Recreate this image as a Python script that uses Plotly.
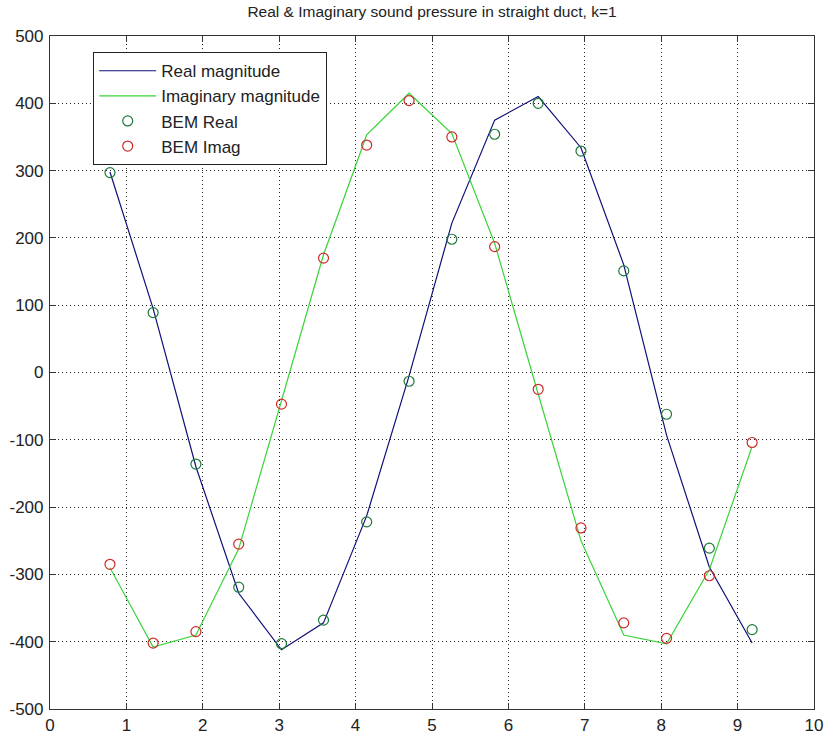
import plotly.graph_objects as go

x_vals = [0.785, 1.35, 1.91, 2.47, 3.03, 3.58, 4.145, 4.70, 5.26, 5.82, 6.39, 6.95, 7.51, 8.07, 8.63, 9.19]

real_mag = [298, 95, -140, -328, -412, -372, -213, -5, 222, 375, 410, 334, 160, -93, -289, -402]
imag_mag = [-290, -408, -390, -262, -42, 175, 353, 415, 355, 192, -32, -250, -390, -403, -293, -110]

bem_real = [297, 89, -136, -319, -403, -368, -222, -13, 198, 354, 400, 329, 151, -62, -261, -382]
bem_imag = [-285, -402, -385, -255, -47, 170, 338, 404, 350, 187, -25, -231, -372, -395, -302, -104]

x_ticks = [0, 1, 2, 3, 4, 5, 6, 7, 8, 9, 10]
y_ticks = [-500, -400, -300, -200, -100, 0, 100, 200, 300, 400, 500]

title_text = "Real &amp; Imaginary sound pressure in straight duct, k=1"

fig = go.Figure()
fig.add_trace(go.Scatter(x=x_vals, y=real_mag, mode="lines", name="Real magnitude",
                         line=dict(color="#10107a", width=1.2)))
fig.add_trace(go.Scatter(x=x_vals, y=imag_mag, mode="lines", name="Imaginary magnitude",
                         line=dict(color="#3ad43a", width=1.2)))
fig.add_trace(go.Scatter(x=x_vals, y=bem_real, mode="markers", name="BEM Real",
                         marker=dict(symbol="circle-open", size=10, color="#1d7a3a",
                                     line=dict(width=1.2, color="#1d7a3a"))))
fig.add_trace(go.Scatter(x=x_vals, y=bem_imag, mode="markers", name="BEM Imag",
                         marker=dict(symbol="circle-open", size=10, color="#d02a2a",
                                     line=dict(width=1.2, color="#d02a2a"))))

axis_common = dict(
    showline=True, linecolor="#333333", linewidth=1.2, mirror="ticks",
    ticks="inside", ticklen=6, tickcolor="#333333", tickwidth=1,
    showgrid=True, gridcolor="#222222", gridwidth=1, griddash="1px,3px",
    zeroline=False, automargin=False,
    tickfont=dict(family="Liberation Sans, Arial, sans-serif", size=17, color="#222222"),
)

fig.update_xaxes(range=[0, 10], tickvals=x_ticks, ticktext=[str(v) for v in x_ticks],
                 **axis_common)
fig.update_yaxes(range=[-500, 500], tickvals=y_ticks, ticktext=[str(v) for v in y_ticks],
                 ticklabelstandoff=2, **axis_common)

fig.update_layout(
    width=825, height=734,
    margin=dict(l=50, r=11, t=36, b=25, autoexpand=False),
    paper_bgcolor="white", plot_bgcolor="white",
    title=dict(text=title_text, x=(50 + 382) / 825, xanchor="center", y=1 - 12 / 734,
               yanchor="middle",
               font=dict(family="Liberation Sans, Arial, sans-serif", size=15.5, color="#222222")),
    showlegend=True,
    legend=dict(x=(93 - 50) / 764, y=1 - (52 - 36) / 673, xanchor="left", yanchor="top",
                bgcolor="white", bordercolor="#222222", borderwidth=1.2,
                font=dict(family="Liberation Sans, Arial, sans-serif", size=17, color="#222222"),
                itemwidth=57, tracegroupgap=0),
)

fig.write_html("out.html", config={"displayModeBar": False},
               post_script="document.body.style.margin='0';document.body.style.overflow='hidden';")
